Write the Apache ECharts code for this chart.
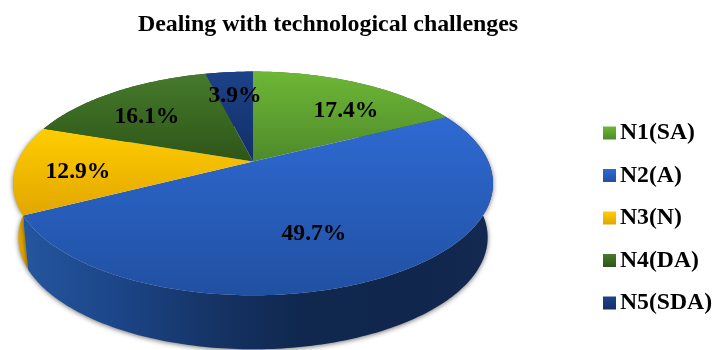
<!DOCTYPE html>
<html>
<head>
<meta charset="utf-8">
<style>html,body{margin:0;padding:0;background:#fff}#chart{width:714px;height:350px}</style>
<script src="https://cdn.jsdelivr.net/npm/echarts@6/dist/echarts.min.js"></script>
</head>
<body>
<div id="chart"></div>
<script>
const categories = ['N1(SA)', 'N2(A)', 'N3(N)', 'N4(DA)', 'N5(SDA)'];
const shares = [17.4, 49.7, 12.9, 16.1, 3.9];

const faceShades = [
  ['#6db736', '#4e8a2a'],
  ['#2f6ad2', '#2050a2'],
  ['#ffcd00', '#e2a600'],
  ['#457a2b', '#2e5518'],
  ['#1c4288', '#122f68']
];
const wallShades = [
  [[0, '#4e8a2a'], [1, '#2e5518']],
  [[0, '#24569f'], [0.2, '#1c4688'], [0.45, '#14305f'], [0.6, '#10284f'], [0.85, '#10264c'], [1, '#13294f']],
  [[0, '#e0a400'], [1, '#cc9000']],
  [[0, '#2e5518'], [1, '#2e5518']],
  [[0, '#122f68'], [1, '#122f68']]
];
const labelSpots = [[346, 110.5], [314, 234], [78, 171.5], [147, 116.5], [235, 95.5]];

// Perspective projection of the unit disc onto the tilted pie top.
const centerX = 253, spreadX = 235.3, apexY = 161.5, slopeY = 75.9, tilt = -0.196;
const wallDepth = 54, wallInset = 0.978, lensDrift = 1.5;
const project = (deg) => {
  // The camera lens drags the slice edges slightly clockwise, most of all on the far left.
  const a = (deg + lensDrift * Math.sin(deg * Math.PI / 360)) * Math.PI / 180;
  const u = Math.sin(a), v = -Math.cos(a), w = 1 + tilt * v;
  return [centerX + spreadX * u / w, (slopeY * v + apexY) / w];
};
const lower = (p) => [centerX + (p[0] - centerX) * wallInset, p[1] + wallDepth];

const total = shares.reduce((s, v) => s + v, 0);
const startDeg = shares.map((_, i) => shares.slice(0, i).reduce((s, v) => s + v, 0) / total * 360);

function arcPoints(from, to) {
  const pts = [];
  const steps = Math.max(2, Math.ceil(to - from));
  for (let k = 0; k <= steps; k++) pts.push(project(from + (to - from) * k / steps));
  return pts;
}

const vertical = (stops) => new echarts.graphic.LinearGradient(0, 0, 0, 1, [
  { offset: 0, color: stops[0] }, { offset: 1, color: stops[1] }
]);

function drawSlice(i, params, api) {
  const value = api.value(0);
  const from = startDeg[i], to = from + value / total * 360;
  const rim = arcPoints(from, to);
  const wall = rim.concat(rim.map(lower).reverse());
  const wallFill = new echarts.graphic.LinearGradient(22, 0, 490, 0,
    wallShades[i].map(s => ({ offset: s[0], color: s[1] })), true);
  const front = i === 1 || i === 2;
  return {
    type: 'group',
    children: [
      {
        type: 'polygon', z2: i === 1 ? 2 : 1, silent: true,
        shape: { points: wall },
        style: {
          fill: wallFill,
          shadowColor: front ? 'rgba(0,0,0,0.55)' : 'transparent',
          shadowBlur: front ? 5 : 0,
          shadowOffsetY: front ? 1 : 0
        }
      },
      {
        type: 'polygon', z2: 3, silent: true,
        shape: { points: [[centerX, apexY]].concat(rim) },
        style: { fill: vertical(faceShades[i]) }
      },
      {
        type: 'text', z2: 4, silent: true,
        style: {
          text: value.toFixed(1) + '%',
          x: labelSpots[i][0], y: labelSpots[i][1],
          align: 'center', verticalAlign: 'middle',
          font: 'bold 23.6px "Liberation Serif"', fill: '#000'
        }
      }
    ]
  };
}

const chart = echarts.init(document.getElementById('chart'), null, { renderer: 'canvas' });
chart.setOption({
  animation: false,
  backgroundColor: '#fff',
  title: {
    text: 'Dealing with technological challenges',
    left: 323, top: 8, textAlign: 'center',
    textStyle: { fontFamily: 'Liberation Serif', fontWeight: 'bold', fontSize: 23.9, color: '#000' }
  },
  legend: {
    orient: 'vertical', left: 603, top: 121, padding: 0,
    itemWidth: 13, itemHeight: 13, itemGap: 18.5, icon: 'rect',
    selectedMode: false,
    data: categories,
    textStyle: {
      fontFamily: 'Liberation Serif', fontWeight: 'bold', fontSize: 23.7,
      color: '#000', lineHeight: 24, padding: [0, 0, 0, -1]
    }
  },
  series: categories.map((name, i) => ({
    type: 'custom',
    name,
    coordinateSystem: 'none',
    silent: true,
    itemStyle: { color: vertical(faceShades[i]) },
    data: [[shares[i]]],
    renderItem: (params, api) => drawSlice(i, params, api)
  }))
});
</script>
</body>
</html>
